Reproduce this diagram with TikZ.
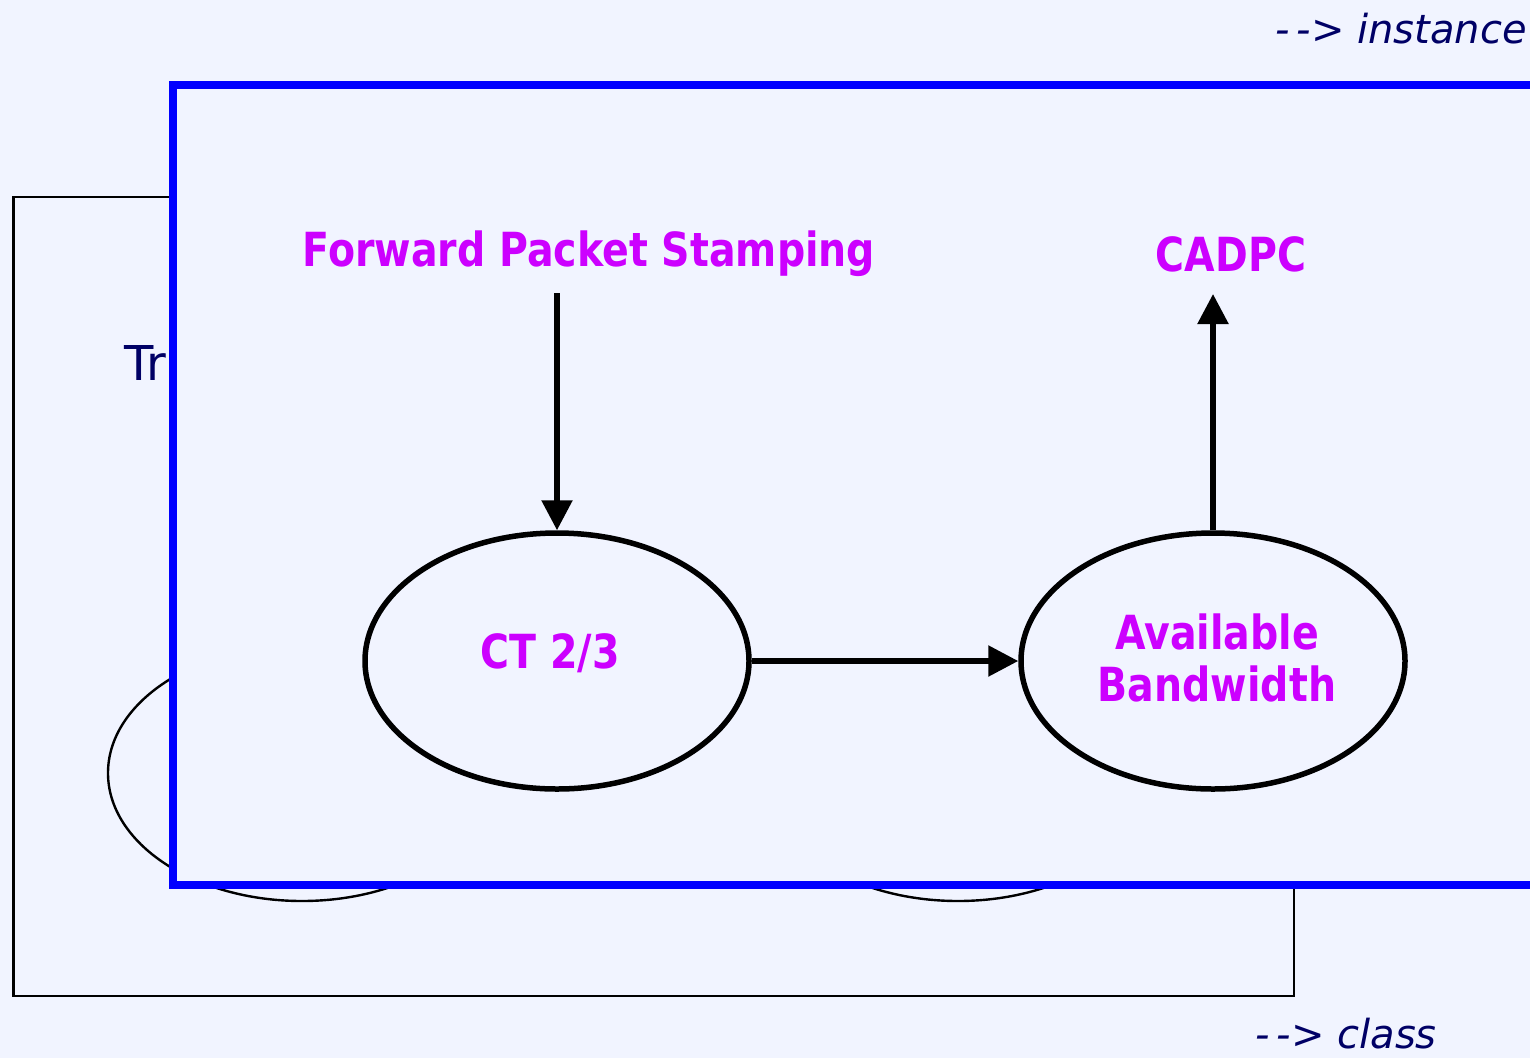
\documentclass[tikz,border=0pt]{standalone}
\usepackage{fontspec}
\setmainfont[FakeStretch=0.84]{DejaVu Sans}
\newfontfamily\legendfont{DejaVu Sans}
\usetikzlibrary{shapes.geometric,arrows.meta}
\definecolor{bg}{RGB}{241,244,255}
\definecolor{mag}{RGB}{204,0,255}
\definecolor{navy}{RGB}{0,0,102}
\definecolor{frameblue}{RGB}{0,0,255}
\tikzset{
  label/.style={text=mag, font=\bfseries\fontsize{47}{56}\selectfont, inner sep=0pt, align=center},
  state/.style={ellipse, draw=black, line width=5.5pt, minimum width=384pt, minimum height=256pt, inner sep=0pt},
  ghost/.style={ellipse, draw=black, line width=2.4pt, minimum width=388pt, minimum height=256pt, inner sep=0pt},
  flow/.style={line width=5.5pt, -{Triangle[length=30pt,width=30pt]}},
  legend/.style={text=navy, font=\legendfont\itshape\fontsize{40}{48}\selectfont, inner sep=0pt, anchor=base east}
}
\begin{document}
\begin{tikzpicture}[x=1pt,y=-1pt]
  \useasboundingbox (0,0) rectangle (1530,1058);
  \fill[bg] (0,0) rectangle (1530,1058);
  \clip (0,0) rectangle (1530,1058);

  % class level (behind)
  \draw[line width=2.4pt] (13.5,197) rectangle (1294,996);
  \node[text=navy, font=\legendfont\fontsize{48}{56}\selectfont, inner sep=0pt, anchor=base west] (trlabel) at (124,380) {Tr};
  \node[ghost] (classa) at (302,773) {};
  \node[ghost] (classb) at (958,773) {};

  % instance level (front)
  \draw[frameblue, fill=bg, line width=8pt] (173,85) rectangle (1560,885);

  \node[label] (fps) at (589,254) {Forward Packet Stamping};
  \node[label] (cadpc) at (1231,254) {CADPC};
  \node[state] (ct) at (557,661) {};
  \node[label] at (550,653) (ctlabel) {CT 2/3};
  \node[state] (ab) at (1213,661) {};
  \node[label, text depth=0pt] at (1217,658) (ablabel) {Available\\[-4pt]Bandwidth};

  \coordinate (fpsout) at (557,293);
  \coordinate (cadpcin) at (1213,294);
  \draw[flow] (fpsout) -- (ct.north);
  \draw[flow] (ct.east) -- (ab.west);
  \draw[flow] (ab.north) -- (cadpcin);

  \node[legend] (inst) at (1527,43) {-\,-> instance};
  \node[legend] (cls) at (1437,1048) {-\,-> class};
\end{tikzpicture}
\end{document}
